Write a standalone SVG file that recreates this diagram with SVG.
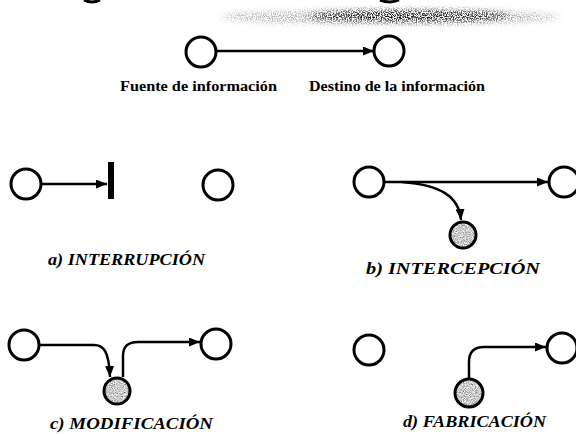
<svg xmlns="http://www.w3.org/2000/svg" width="576" height="434" viewBox="0 0 576 434">
<style>
.node{fill:#fff;stroke:#000;stroke-width:3}
.intr{stroke:#000;stroke-width:3}
.edge{fill:none;stroke:#000;stroke-width:2.5}
.lbl{font-family:"Liberation Serif","Times New Roman",serif;font-weight:bold;font-size:14px;fill:#000}
.cap{font-family:"Liberation Serif","Times New Roman",serif;font-weight:bold;font-style:italic;font-size:17px;fill:#000}
</style>
<defs>
<marker id="arr" markerUnits="userSpaceOnUse" markerWidth="11" markerHeight="9" refX="11" refY="4.5" orient="auto">
<path d="M0,0 L11,4.5 L0,9 z" fill="#000"/>
</marker>
<filter id="speckle" x="0" y="0" width="1" height="1">
<feTurbulence type="fractalNoise" baseFrequency="0.9" numOctaves="2" seed="7" result="n"/>
<feColorMatrix in="n" type="matrix" values="1.5 0 0 0 -0.15  1.5 0 0 0 -0.15  1.5 0 0 0 -0.15  0 0 0 0 1" result="g"/>
<feComposite in="g" in2="SourceGraphic" operator="in"/>
</filter>
<filter id="smudge" x="-0.1" y="-0.5" width="1.2" height="2">
<feGaussianBlur in="SourceGraphic" stdDeviation="3" result="b"/>
<feTurbulence type="fractalNoise" baseFrequency="0.8" numOctaves="2" seed="4" result="n"/>
<feColorMatrix in="n" type="matrix" values="0 0 0 0 0  0 0 0 0 0  0 0 0 0 0  0 0 0 -4 2.4" result="d"/>
<feComposite in="d" in2="b" operator="in"/>
</filter>
</defs>
<rect width="576" height="434" fill="#fff"/>
<g id="scan-marks">
<path d="M84,0 Q92,4 100,0" fill="none" stroke="#000" stroke-width="3"/>
<path d="M380,0 Q390,4 399,0" fill="none" stroke="#000" stroke-width="3"/>
<ellipse cx="390" cy="17" rx="170" ry="7" fill="#000" fill-opacity="0.35" filter="url(#smudge)"/>
<ellipse cx="410" cy="16" rx="100" ry="5" fill="#000" filter="url(#smudge)"/>
</g>
<g id="connectors">
<line class="edge" x1="217" y1="51" x2="374" y2="51" marker-end="url(#arr)"/>
<line class="edge" x1="41" y1="184" x2="107" y2="184" marker-end="url(#arr)"/>
<line class="edge" x1="385" y1="182" x2="548" y2="182" marker-end="url(#arr)"/>
<path class="edge" d="M402,182 C440,185 459,196 461,220" marker-end="url(#arr)"/>
<path class="edge" d="M40,345 H94 C104,345 109,352 110,377" marker-end="url(#arr)"/>
<path class="edge" d="M123,377 V356 C123,346 128,342 138,342 H200" marker-end="url(#arr)"/>
<path class="edge" d="M469,378 V362 C469,352 474,347 484,347 H546" marker-end="url(#arr)"/>
</g>
<g id="top-source"><circle class="node" cx="201" cy="52" r="15"/><text class="lbl" x="120" y="91" textLength="157" lengthAdjust="spacingAndGlyphs">Fuente de información</text></g>
<g id="top-dest"><circle class="node" cx="389" cy="51" r="15"/><text class="lbl" x="309" y="91" textLength="176" lengthAdjust="spacingAndGlyphs">Destino de la información</text></g>
<g id="a-source"><circle class="node" cx="26" cy="184" r="15"/></g>
<g id="a-barrier"><rect x="108" y="162" width="6" height="37" fill="#000"/></g>
<g id="a-dest"><circle class="node" cx="218" cy="185" r="15"/></g>
<g id="a-label"><text class="cap" x="48" y="265" textLength="157" lengthAdjust="spacingAndGlyphs">a) INTERRUPCIÓN</text></g>
<g id="b-source"><circle class="node" cx="369" cy="182" r="15"/></g>
<g id="b-dest"><circle class="node" cx="564" cy="182" r="15"/></g>
<g id="b-intruder"><circle cx="463" cy="235" r="13" fill="#fff" filter="url(#speckle)"/><circle cx="463" cy="235" r="13" fill="none" class="intr"/></g>
<g id="b-label"><text class="cap" x="366" y="274" textLength="174" lengthAdjust="spacingAndGlyphs">b) INTERCEPCIÓN</text></g>
<g id="c-source"><circle class="node" cx="24" cy="345" r="15"/></g>
<g id="c-intruder"><circle cx="117" cy="391" r="13" fill="#fff" filter="url(#speckle)"/><circle cx="117" cy="391" r="13" fill="none" class="intr"/></g>
<g id="c-dest"><circle class="node" cx="216" cy="344" r="15"/></g>
<g id="c-label"><text class="cap" x="50" y="429" textLength="163" lengthAdjust="spacingAndGlyphs">c) MODIFICACIÓN</text></g>
<g id="d-source"><circle class="node" cx="369" cy="350" r="15"/></g>
<g id="d-intruder"><circle cx="469" cy="393" r="14" fill="#fff" filter="url(#speckle)"/><circle cx="469" cy="393" r="14" fill="none" class="intr"/></g>
<g id="d-dest"><circle class="node" cx="562" cy="348" r="15"/></g>
<g id="d-label"><text class="cap" x="403" y="427" textLength="143" lengthAdjust="spacingAndGlyphs">d) FABRICACIÓN</text></g>
</svg>
